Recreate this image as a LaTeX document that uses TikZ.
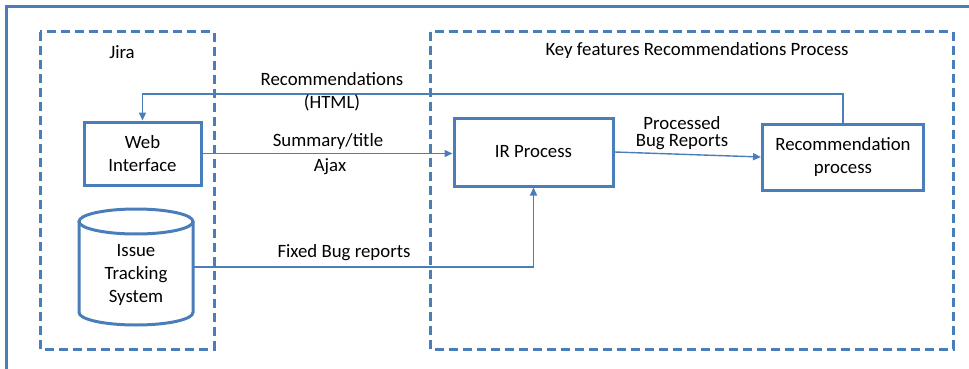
\documentclass[tikz,border=0pt]{standalone}
\usepackage{fontspec}
\setmainfont{Carlito}
\usetikzlibrary{arrows.meta}
\definecolor{frameblue}{RGB}{74,126,187}
\begin{document}
\begin{tikzpicture}[x=1pt,y=-1pt,
  every node/.style={font=\fontsize{18.8}{23}\selectfont, text=black},
  group/.style={draw=frameblue, line width=3pt, dash pattern=on 9pt off 5pt},
  procbox/.style={draw=frameblue, line width=3pt, rectangle, align=center, inner sep=0pt},
  flow/.style={draw=frameblue, line width=1.4pt, -{Triangle[length=8pt,width=7pt]}},
  lbl/.style={align=center, inner sep=0pt}]
\useasboundingbox (0,0) rectangle (969,369);
\draw[frameblue, line width=3pt] (6.5,369) -- (6.5,6.5) -- (969,6.5);
% groups
\draw[group] (40,32) rectangle (214,349);
\draw[group] (430,32) rectangle (953,349);
\node[lbl] (jira) at (122,52) {Jira};
\node[lbl] (keyf) at (697,50) {Key features Recommendations Process};
% nodes
\node[procbox, minimum width=117pt, minimum height=63pt] (web) at (142.5,153.5) {Web\\Interface};
\node[procbox, minimum width=159pt, minimum height=68pt] (ir) at (533.5,152) {IR Process};
\node[procbox, minimum width=161pt, minimum height=66pt] (rec) at (843,157) {Recommendation\\process};
% cylinder
\node[rectangle, minimum width=114pt, minimum height=116pt, inner sep=0pt] (its) at (136,267) {};
\draw[frameblue, line width=3pt, fill=white] (79,221.5) -- (79,312.5) arc[start angle=180, end angle=0, x radius=57, y radius=12.5] -- (193,221.5);
\draw[frameblue, line width=3pt] (136,221.5) ellipse[x radius=57, y radius=12.5];
\node[lbl] (itstext) at (136,275) {Issue\\Tracking\\System};
% connectors
\coordinate (rectop) at (843,94);
\draw[flow] (rec.north) -- (rectop) -| (web.north);
\draw[flow] (web.east) -- (web.east -| ir.west);
\draw[flow] (ir.east) -- (rec.west);
\draw[flow] (its.east) -| (ir.south);
% labels
\node[lbl] (l1) at (332,91.5) {Recommendations\\(HTML)};
\node[lbl] (l2) at (328,141) {Summary/title};
\node[lbl] (l3) at (330,167) {Ajax};
\node[lbl, font=\fontsize{18.8}{17}\selectfont] (l4) at (682,133.5) {Processed\\Bug Reports};
\node[lbl] (l5) at (344,253) {Fixed Bug reports};
\end{tikzpicture}
\end{document}
